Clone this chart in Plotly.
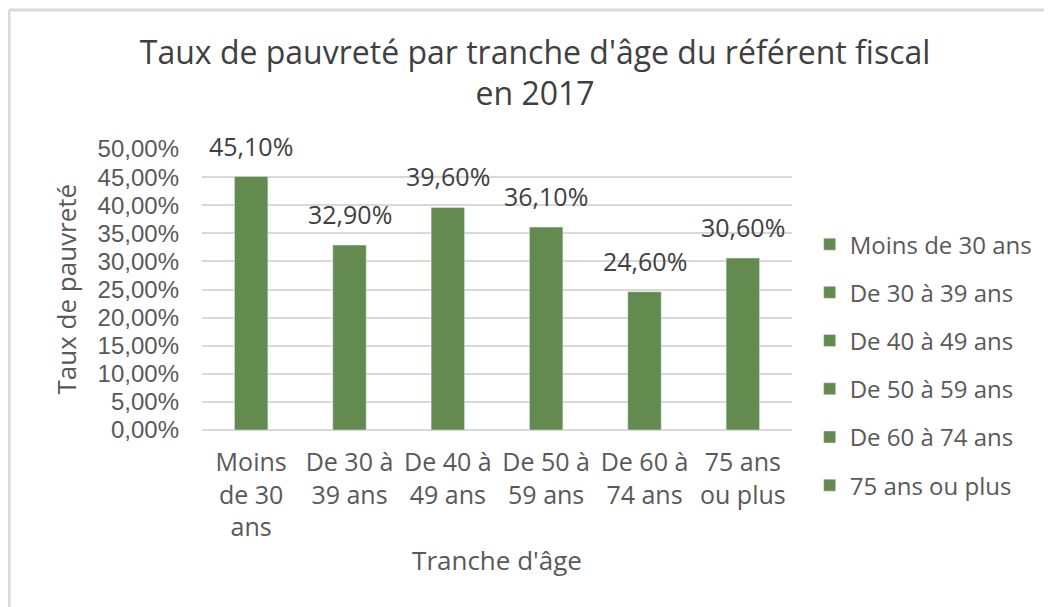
import plotly.graph_objects as go

categories = ["Moins de 30 ans", "De 30 à 39 ans", "De 40 à 49 ans",
              "De 50 à 59 ans", "De 60 à 74 ans", "75 ans ou plus"]
tick_labels = ["Moins<br>de 30<br>ans", "De 30 à<br>39 ans", "De 40 à<br>49 ans",
               "De 50 à<br>59 ans", "De 60 à<br>74 ans", "75 ans<br>ou plus"]
values = [45.1, 32.9, 39.6, 36.1, 24.6, 30.6]
y_ticks = [0, 5, 10, 15, 20, 25, 30, 35, 40, 45, 50]

BAR = "#638a4f"
TXT = "#595959"
FONT = "Open Sans"
TICKFONT = "Liberation Sans"

def pct(v):
    return f"{v:.2f}".replace(".", ",") + "%"

fig = go.Figure()
for i, (c, v) in enumerate(zip(categories, values)):
    fig.add_trace(go.Bar(
        x=[c], y=[v], name=c, marker_color=BAR, width=0.34,
        legendgroup=f"g{i}", showlegend=True, hoverinfo="skip",
    ))
    fig.add_annotation(x=c, y=v, text=pct(v), showarrow=False,
                       yanchor="bottom", yshift=12,
                       font=dict(family=FONT, size=25, color="#404040"))

L, T, PW, PH = 194, 141, 590, 281

def px(xp):
    return (xp - L) / PW
def py(yp):
    return (T + PH - yp) / PH

fig.update_layout(
    width=1052, height=607,
    barmode="overlay",
    paper_bgcolor="white", plot_bgcolor="white",
    margin=dict(l=L, r=1052 - L - PW, t=T, b=607 - T - PH),
    font=dict(family=FONT, size=24, color=TXT),
    title=dict(text="Taux de pauvreté par tranche d'âge du référent fiscal<br>en 2017",
               x=0.501, xanchor="center", y=0.908, yanchor="top",
               font=dict(family=FONT, size=32, color="#404040")),
    legend=dict(x=1.030, xanchor="left", y=0.74, yanchor="top",
                tracegroupgap=14, font=dict(family=FONT, size=24, color=TXT),
                traceorder="grouped", itemwidth=30, maxheight=600),
    showlegend=True,
)
fig.update_xaxes(
    categoryorder="array", categoryarray=categories,
    tickmode="array", tickvals=categories, ticktext=tick_labels,
    showline=False, showgrid=False, ticks="", ticklabelstandoff=15,
    tickfont=dict(family=FONT, size=25, color=TXT),
    title=dict(text="Tranche d'âge", standoff=9,
               font=dict(family=FONT, size=26, color=TXT)),
)
fig.update_yaxes(
    range=[0, 50], tickmode="array", tickvals=y_ticks,
    ticktext=[pct(t) for t in y_ticks],
    showgrid=True, gridcolor="#d9d9d9", gridwidth=2,
    zeroline=True, zerolinecolor="#d9d9d9", zerolinewidth=2,
    showline=False, ticks="", ticklabelstandoff=22,
    tickfont=dict(family=TICKFONT, size=24, color=TXT),
)

# y-axis title placed as in the reference
fig.add_annotation(text="Taux de pauvreté", xref="paper", yref="paper",
                   x=px(57), y=0.5, textangle=-90, showarrow=False,
                   xanchor="center", yanchor="middle",
                   font=dict(family=FONT, size=26, color=TXT))

# chart border (left and top edges visible in the reference)
fig.add_shape(type="line", xref="paper", yref="paper",
              x0=px(1), x1=px(1), y0=py(607), y1=py(2),
              line=dict(color="#d9d9d9", width=3))
fig.add_shape(type="line", xref="paper", yref="paper",
              x0=px(1), x1=px(1052), y0=py(2), y1=py(2),
              line=dict(color="#d9d9d9", width=3))

fig.write_html("out.html")
